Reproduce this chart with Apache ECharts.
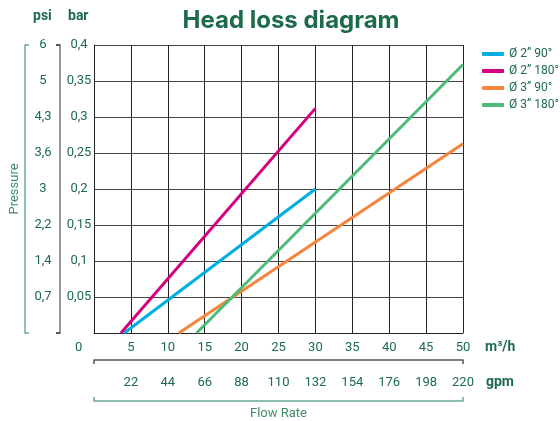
<!DOCTYPE html>
<html><head><meta charset="utf-8">
<script src="https://cdn.jsdelivr.net/npm/echarts@6/dist/echarts.min.js"></script>
<style>html,body{margin:0;padding:0;background:#fff;overflow:hidden}#c{width:560px;height:421px}</style>
</head><body><div id="c"></div>
<script>
const seriesNames = ['Ø 2” 90°', 'Ø 2” 180°', 'Ø 3” 90°', 'Ø 3” 180°'];
const seriesColors = ['#00aee0', '#d3007f', '#f7843c', '#4dbb78'];
const d2_90  = [[4.1, 0], [30, 0.2]];
const d2_180 = [[3.65, 0], [30, 0.312]];
const d3_90  = [[11.5, 0], [50, 0.263]];
const d3_180 = [[13.9, 0], [50, 0.373]];
const barLabels = ['0', '0,05', '0,1', '0,15', '0,2', '0,25', '0,3', '0,35', '0,4'];
const psiLabels = ['', '0,7', '1,4', '2,2', '3', '3,6', '4,3', '5', '6'];
const m3hLabels = ['', '5', '10', '15', '20', '25', '30', '35', '40', '45', '50'];
const gpmLabels = ['', '22', '44', '66', '88', '110', '132', '154', '176', '198', '220'];

const FONT = 'Roboto, "DejaVu Sans Condensed", sans-serif';
const DARK = '#1d6b4b';
const TEAL = '#6aab8e';
const chart = echarts.init(document.getElementById('c'), null, {renderer: 'canvas'});
const lineData = [d2_90, d2_180, d3_90, d3_180];

const option = {
  animation: false,
  backgroundColor: '#fff',
  title: {
    text: 'Head loss diagram', left: 286, top: 4, textAlign: 'center',
    textStyle: {fontFamily: 'Inter', fontWeight: 'bold', fontSize: 24, color: DARK}
  },
  legend: {
    orient: 'vertical', left: 482, top: 48, padding: 0, itemWidth: 22, itemHeight: 4, itemGap: 5,
    icon: 'roundRect',
    textStyle: {fontFamily: FONT, fontSize: 12, color: DARK},
    data: seriesNames
  },
  grid: {left: 94, right: 97, top: 45, bottom: 88, containLabel: false, outerBoundsMode: 'none'},
  xAxis: [
    {
      type: 'value', min: 0, max: 50, interval: 5, position: 'bottom',
      axisLine: {show: true, onZero: false, lineStyle: {color: '#222', width: 1}},
      axisTick: {show: false},
      splitLine: {show: true, lineStyle: {color: '#222', width: 1}},
      axisLabel: {margin: 8, fontFamily: FONT, fontSize: 13, color: DARK,
        formatter: v => m3hLabels[Math.round(v / 5)]}
    },
    {
      type: 'value', min: 0, max: 50, interval: 5, position: 'bottom', offset: 27,
      axisLine: {show: true, onZero: false, lineStyle: {color: '#555', width: 1.5}},
      axisTick: {show: true, customValues: [0, 50], length: 4, lineStyle: {color: '#555', width: 1.5}},
      splitLine: {show: false},
      axisLabel: {margin: 16, fontFamily: FONT, fontSize: 13, color: DARK,
        formatter: v => gpmLabels[Math.round(v / 5)]}
    },
    {
      type: 'value', min: 0, max: 50, interval: 5, position: 'bottom', offset: 68,
      axisLine: {show: true, onZero: false, lineStyle: {color: TEAL, width: 1.5}},
      axisTick: {show: true, customValues: [0, 50], inside: true, length: 4, lineStyle: {color: TEAL, width: 1.5}},
      splitLine: {show: false},
      axisLabel: {show: false},
      name: 'Flow Rate', nameLocation: 'middle', nameGap: 6,
      nameTextStyle: {fontFamily: FONT, fontSize: 13, color: '#3e8c68'}
    }
  ],
  yAxis: [
    {
      type: 'value', min: 0, max: 0.4, interval: 0.05, position: 'left',
      axisLine: {show: true, onZero: false, lineStyle: {color: '#222', width: 1}},
      axisTick: {show: false},
      splitLine: {show: true, lineStyle: {color: '#444', width: 1}},
      axisLabel: {margin: 15, align: 'center', fontFamily: FONT, fontSize: 13, color: DARK,
        formatter: v => { const i = Math.round(v / 0.05); return i === 0 ? '' : barLabels[i]; }}
    },
    {
      type: 'value', min: 0, max: 0.4, interval: 0.05, position: 'left', offset: 34,
      axisLine: {show: true, onZero: false, lineStyle: {color: '#777', width: 1.5}},
      axisTick: {show: true, customValues: [0, 0.4], inside: false, length: 4, lineStyle: {color: '#222', width: 1.5}},
      splitLine: {show: false},
      axisLabel: {margin: 17, align: 'center', fontFamily: FONT, fontSize: 13, color: DARK,
        formatter: v => psiLabels[Math.round(v / 0.05)]}
    },
    {
      type: 'value', min: 0, max: 0.4, interval: 0.05, position: 'left', offset: 69,
      axisLine: {show: true, onZero: false, lineStyle: {color: TEAL, width: 1.5}},
      axisTick: {show: true, customValues: [0, 0.4], inside: true, length: 4, lineStyle: {color: TEAL, width: 1.5}},
      splitLine: {show: false},
      axisLabel: {show: false},
      name: 'Pressure', nameLocation: 'middle', nameGap: 4, nameRotate: 90,
      nameTextStyle: {fontFamily: FONT, fontSize: 13, color: '#3e8c68'}
    }
  ],
  graphic: [
    {type: 'text', left: 33, top: 9, style: {text: 'psi', font: 'bold 14px ' + FONT, fill: DARK}},
    {type: 'text', left: 68, top: 9, style: {text: 'bar', font: 'bold 14px ' + FONT, fill: DARK}},
    {type: 'text', left: 485, top: 340, style: {text: 'm³/h', font: 'bold 14px ' + FONT, fill: DARK}},
    {type: 'text', left: 486, top: 375, style: {text: 'gpm', font: 'bold 14px ' + FONT, fill: DARK}},
    {type: 'text', left: 75, top: 341, style: {text: barLabels[0], font: '13px ' + FONT, fill: DARK}}
  ],
  series: seriesNames.map((n, i) => ({
    name: n, type: 'line', xAxisIndex: 0, yAxisIndex: 0,
    data: lineData[i], showSymbol: false, symbol: 'none',
    lineStyle: {color: seriesColors[i], width: 3}, itemStyle: {color: seriesColors[i]}
  }))
};
chart.setOption(option);
</script></body></html>
